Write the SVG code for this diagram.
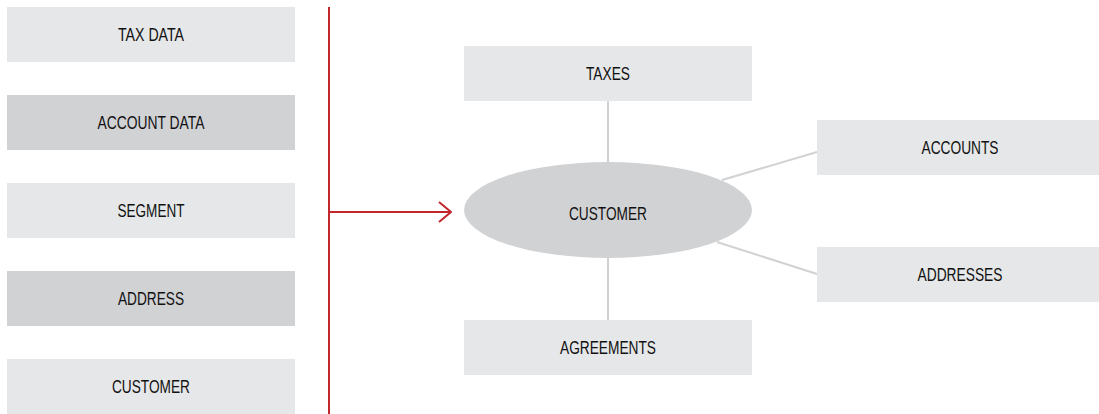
<svg xmlns="http://www.w3.org/2000/svg" width="1099" height="414" viewBox="0 0 1099 414">
  <style>
    .light { fill: #e6e7e8; }
    .dark { fill: #d1d2d4; }
    .label { font-family: "Liberation Sans", Arial, sans-serif; font-size: 18px; fill: #111; text-anchor: middle; }
    .link { stroke: #d1d2d4; stroke-width: 2; fill: none; }
    .flow { stroke: #c1272d; stroke-width: 2; fill: none; }
  </style>
  <defs>
    <marker id="chevron" viewBox="0 0 14 22" refX="13" refY="11" markerWidth="14" markerHeight="22" markerUnits="userSpaceOnUse" orient="auto">
      <path d="M1 1 L13 11 L1 21" fill="none" stroke="#c1272d" stroke-width="2"/>
    </marker>
  </defs>
  <rect width="1099" height="414" fill="#fff"/>

  <!-- source data blocks (labels set in a condensed width) -->
  <g id="tax-data"><rect class="light" x="7" y="7" width="288" height="55"/><text class="label" x="151" y="41" textLength="66" lengthAdjust="spacingAndGlyphs">TAX DATA</text></g>
  <g id="account-data"><rect class="dark" x="7" y="95" width="288" height="55"/><text class="label" x="151" y="129" textLength="107" lengthAdjust="spacingAndGlyphs">ACCOUNT DATA</text></g>
  <g id="segment"><rect class="light" x="7" y="183" width="288" height="55"/><text class="label" x="151" y="217" textLength="67" lengthAdjust="spacingAndGlyphs">SEGMENT</text></g>
  <g id="address"><rect class="dark" x="7" y="271" width="288" height="55"/><text class="label" x="151" y="305" textLength="66" lengthAdjust="spacingAndGlyphs">ADDRESS</text></g>
  <g id="customer-data"><rect class="light" x="7" y="359" width="288" height="55"/><text class="label" x="151" y="393" textLength="78" lengthAdjust="spacingAndGlyphs">CUSTOMER</text></g>

  <!-- connectors -->
  <g id="connectors">
    <line class="flow" x1="329" y1="7" x2="329" y2="414"/>
    <line class="flow" x1="329" y1="212" x2="451" y2="212" marker-end="url(#chevron)"/>
    <line class="link" x1="608" y1="101" x2="608" y2="162"/>
    <line class="link" x1="608" y1="258" x2="608" y2="320"/>
    <line class="link" x1="722" y1="180" x2="817" y2="152"/>
    <line class="link" x1="717" y1="242" x2="817" y2="274"/>
  </g>

  <!-- customer model -->
  <g id="customer"><ellipse class="dark" cx="608" cy="210" rx="144" ry="48"/><text class="label" x="608" y="220" textLength="78" lengthAdjust="spacingAndGlyphs">CUSTOMER</text></g>
  <g id="taxes"><rect class="light" x="464" y="46" width="288" height="55"/><text class="label" x="608" y="80" textLength="44" lengthAdjust="spacingAndGlyphs">TAXES</text></g>
  <g id="agreements"><rect class="light" x="464" y="320" width="288" height="55"/><text class="label" x="608" y="354" textLength="96" lengthAdjust="spacingAndGlyphs">AGREEMENTS</text></g>
  <g id="accounts"><rect class="light" x="817" y="120" width="282" height="55"/><text class="label" x="960" y="154" textLength="77" lengthAdjust="spacingAndGlyphs">ACCOUNTS</text></g>
  <g id="addresses"><rect class="light" x="817" y="247" width="282" height="55"/><text class="label" x="960" y="281" textLength="85" lengthAdjust="spacingAndGlyphs">ADDRESSES</text></g>
</svg>
